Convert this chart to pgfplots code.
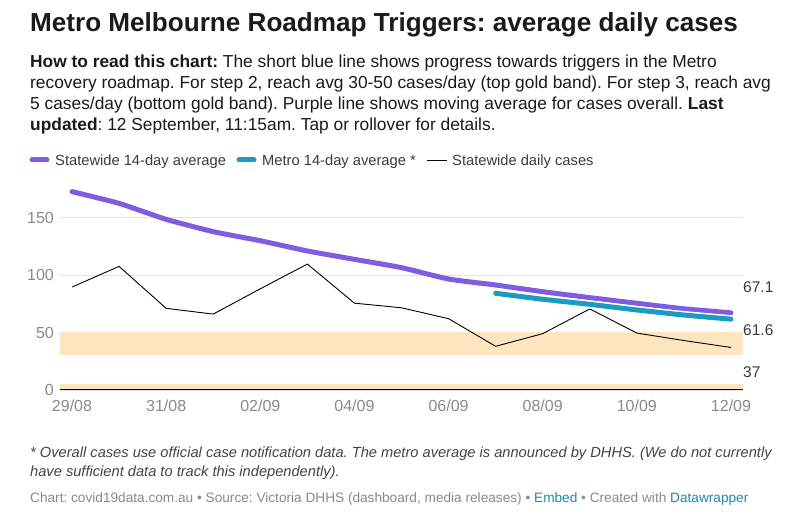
\documentclass[border=0pt]{standalone}
\usepackage{fontspec}
\setmainfont{Liberation Sans}
\usepackage{pgfplots}
\usepackage{pgfplotstable}
\pgfplotsset{compat=1.18}
\frenchspacing
\definecolor{purp}{HTML}{7F5CE0}
\definecolor{tealc}{HTML}{1A9BC0}
\definecolor{band}{HTML}{FCE5BF}
\definecolor{gridc}{HTML}{E2E2E2}
\definecolor{tickc}{HTML}{8A8A8A}
\definecolor{txt}{HTML}{1A1A1A}
\definecolor{foot}{HTML}{444444}
\definecolor{src}{HTML}{8A8A8A}
\definecolor{linkc}{HTML}{1E8BAA}
\pgfplotstableread{
x y
0 89.5
1 107.5
2 71
3 66
4 88
5 109.5
6 75.5
7 71.5
8 62
9 38
10 49
11 70.5
12 49.5
13 43
14 37
}\daily
\pgfplotstableread{
x y
0 172.5
1 162.3
2 148.4
3 137.7
4 129.8
5 120.9
6 113.6
7 106.4
8 96.5
9 91.3
10 85.5
11 80.3
12 75.4
13 70.6
14 67.1
}\statewide
\pgfplotstableread{
x y
9 84.1
10 78.9
11 74.5
12 69.6
13 65.2
14 61.6
}\metro
\begin{document}
\begin{tikzpicture}[x=1pt,y=1pt]
\useasboundingbox (0pt,0pt) rectangle (800pt,522pt);
\fill[white] (0pt,0pt) rectangle (800pt,522pt);
% title
\node[anchor=base west,inner sep=0,text=txt,font=\fontsize{26.1}{30}\selectfont\bfseries] at (30pt,490pt) {Metro Melbourne Roadmap Triggers: average daily cases};
% description
\begin{scope}[every node/.style={anchor=base west,inner sep=0,text=txt,font=\fontsize{17.35}{21}\selectfont}]
\node at (30pt,454pt) {\textbf{How to read this chart:} The short blue line shows progress towards triggers in the Metro};
\node at (30pt,433pt) {recovery roadmap. For step 2, reach avg 30-50 cases/day (top gold band). For step 3, reach avg};
\node at (30pt,412pt) {5 cases/day (bottom gold band). Purple line shows moving average for cases overall. \textbf{Last}};
\node at (30pt,391pt) {\textbf{updated}: 12 September, 11:15am. Tap or rollover for details.};
\end{scope}
% legend
\draw[purp,line width=5pt,line cap=round] (32pt,362pt) -- (47pt,362pt);
\draw[tealc,line width=5pt,line cap=round] (239pt,362pt) -- (254pt,362pt);
\draw[black,line width=0.9pt] (427pt,362pt) -- (447pt,362pt);
\begin{scope}[every node/.style={anchor=base west,inner sep=0,text=txt!85,font=\fontsize{14.7}{17}\selectfont}]
\node at (55pt,356.5pt) {Statewide 14-day average};
\node at (262pt,356.5pt) {Metro 14-day average *};
\node at (452pt,356.5pt) {Statewide daily cases};
\end{scope}
\begin{axis}[
  at={(60pt,132pt)}, anchor=south west,
  scale only axis, width=683pt, height=207pt,
  xmin=-0.255, xmax=14.255, ymin=0, ymax=180,
  axis line style={draw=none},
  major tick length=0pt,
  ytick={0,50,100,150},
  xtick={0,2,...,14},
  xticklabels={29/08,31/08,02/09,04/09,06/09,08/09,10/09,12/09},
  ymajorgrids, grid style={gridc,line width=0.9pt},
  /pgf/number format/assume math mode=true,
  xticklabel style={font=\fontsize{16}{16}\selectfont,text=tickc,anchor=base,yshift=-22pt},
  yticklabel style={font=\fontsize{16}{16}\selectfont,text=tickc,anchor=east,inner sep=0pt,xshift=-6pt},
  clip=false,
]
\addplot[draw=none,fill=band] coordinates {(-0.255,30) (14.255,30) (14.255,50) (-0.255,50)} -- cycle;
\addplot[draw=none,fill=band] coordinates {(-0.255,0) (14.255,0) (14.255,5) (-0.255,5)} -- cycle;
\addplot[black,line width=1pt] coordinates {(-0.255,0) (14.255,0)};
\addplot[black,line width=0.9pt,line join=round] table[x=x,y=y] {\daily};
\addplot[purp,line width=5pt,line cap=round,line join=round,smooth,tension=0.3] table[x=x,y=y] {\statewide};
\addplot[white,line width=8pt,line cap=round,line join=round,smooth,tension=0.3] table[x=x,y=y] {\metro};
\addplot[tealc,line width=5pt,line cap=round,line join=round,smooth,tension=0.3] table[x=x,y=y] {\metro};
\node[anchor=west,inner sep=0,text=txt!85,font=\fontsize{15.5}{16}\selectfont] at (axis cs:14.255,89.8) {67.1};
\node[anchor=west,inner sep=0,text=txt!85,font=\fontsize{15.5}{16}\selectfont] at (axis cs:14.255,52.2) {61.6};
\node[anchor=west,inner sep=0,text=txt!85,font=\fontsize{15.5}{16}\selectfont] at (axis cs:14.255,15.9) {37};
\end{axis}
% footnote
\begin{scope}[every node/.style={anchor=base west,inner sep=0,text=foot,font=\fontsize{14.65}{18}\selectfont\itshape}]
\node at (30pt,64pt) {* Overall cases use official case notification data. The metro average is announced by DHHS. (We do not currently};
\node at (30pt,46pt) {have sufficient data to track this independently).};
\end{scope}
\node[anchor=base west,inner sep=0,text=src,font=\fontsize{13.65}{17}\selectfont] at (30pt,20pt) {Chart: covid19data.com.au • Source: Victoria DHHS (dashboard, media releases) • \textcolor{linkc}{Embed} • Created with \textcolor{linkc}{Datawrapper}};
\end{tikzpicture}
\end{document}
